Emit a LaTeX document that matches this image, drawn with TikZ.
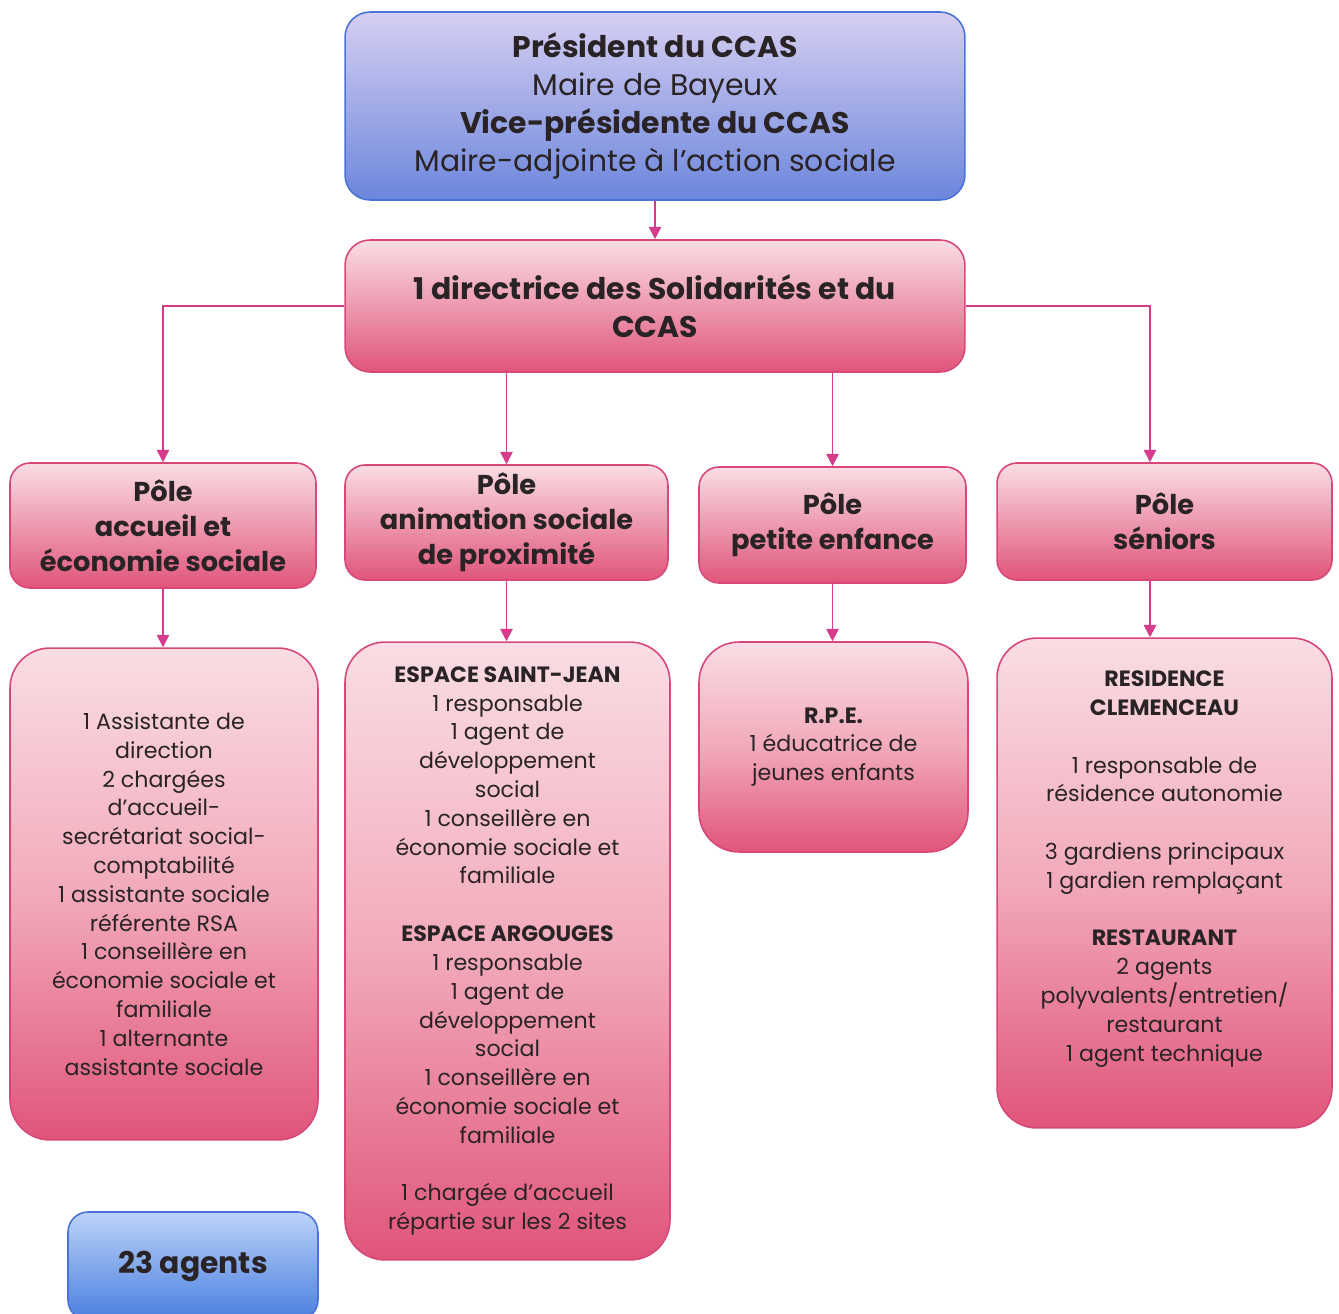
\documentclass[tikz,border=0pt]{standalone}
\usepackage{fontspec}
\setmainfont{Poppins}
\usetikzlibrary{calc,arrows.meta}
\definecolor{pinktop}{HTML}{FADDE4}
\definecolor{pinkmid}{HTML}{F2AABA}
\definecolor{pinkbot}{HTML}{E0557A}
\definecolor{pinkline}{HTML}{D8467A}
\definecolor{linkcol}{HTML}{D63C8C}
\definecolor{bluetop}{HTML}{D6CFF2}
\definecolor{bluebot}{HTML}{6C86DC}
\definecolor{blueline}{HTML}{4B72D6}
\definecolor{agtop}{HTML}{BCD2F8}
\definecolor{agbot}{HTML}{4A7FE0}
\definecolor{txt}{HTML}{2A2326}
\begin{document}
\begin{tikzpicture}[x=0.02cm,y=-0.02cm,
    box/.style={draw=pinkline,line width=0.9pt,top color=pinktop,bottom color=pinkbot,
      align=center,inner sep=0pt,text=txt},
    bluebox/.style={box,draw=blueline,top color=bluetop,bottom color=bluebot},
    polebox/.style={box,rounded corners=0.4cm,font=\fontsize{15.5}{19.8}\selectfont\bfseries},
    unitbox/.style={box,rounded corners=0.8cm,top color=pinktop,bottom color=pinkbot,
      middle color=pinkmid,font=\fontsize{12.6}{16.4}\selectfont},
    link/.style={draw=linkcol,line width=1pt,-{Triangle[length=7pt,width=7pt]}}]
  \useasboundingbox (0,0) rectangle (1339,1314);
  % haut
  \node[bluebox,rounded corners=0.5cm,minimum width=12.4cm,minimum height=3.76cm,
    font=\fontsize{17}{21.5}\selectfont] (pres) at (655,106)
    {\textbf{Président du CCAS}\\Maire de Bayeux\\\textbf{Vice-présidente du CCAS}\\Maire-adjointe à l’action sociale};
  \node[box,rounded corners=0.5cm,minimum width=12.4cm,minimum height=2.64cm,
    font=\fontsize{17}{21.5}\selectfont\bfseries] (dir) at (655,306)
    {1 directrice des Solidarités et du\\CCAS};
  % poles
  \node[polebox,minimum width=6.12cm,minimum height=2.5cm] (accueil) at (163,525.5)
    {Pôle\\accueil et\\économie sociale};
  \node[polebox,minimum width=6.46cm,minimum height=2.3cm] (anim) at (506.5,522.5)
    {Pôle\\animation sociale\\de proximité};
  \node[polebox,minimum width=5.34cm,minimum height=2.32cm] (enfance) at (832.5,525)
    {Pôle\\petite enfance};
  \node[polebox,minimum width=6.7cm,minimum height=2.34cm] (seniors) at (1164.5,521.5)
    {Pôle\\séniors};
  % services
  \node[unitbox,minimum width=6.16cm,minimum height=9.84cm] (uaccueil) at (164,894)
    {1 Assistante de\\direction\\2 chargées\\d’accueil-\\secrétariat social-\\comptabilité\\
     1 assistante sociale\\référente RSA\\1 conseillère en\\économie sociale et\\familiale\\
     1 alternante\\assistante sociale};
  \node[unitbox,minimum width=6.5cm,minimum height=12.36cm] (uanim) at (507.5,951)
    {\textbf{ESPACE SAINT-JEAN}\\1 responsable\\1 agent de\\développement\\social\\
     1 conseillère en\\économie sociale et\\familiale\\[16.4pt]
     \textbf{ESPACE ARGOUGES}\\1 responsable\\1 agent de\\développement\\social\\
     1 conseillère en\\économie sociale et\\familiale\\[16.4pt]
     1 chargée d’accueil\\répartie sur les 2 sites};
  \node[unitbox,minimum width=5.38cm,minimum height=4.2cm] (uenfance) at (833.5,747)
    {\textbf{R.P.E.}\\1 éducatrice de\\jeunes enfants};
  \node[unitbox,minimum width=6.7cm,minimum height=9.8cm] (useniors) at (1164.5,883) {};
  \node[align=center,text=txt,font=\fontsize{12.6}{16.4}\selectfont] (tseniors) at (1164.5,869)
    {\textbf{RESIDENCE}\\\textbf{CLEMENCEAU}\\[16.4pt]1 responsable de\\résidence autonomie\\[16.4pt]
     3 gardiens principaux\\1 gardien remplaçant\\[16.4pt]\textbf{RESTAURANT}\\2 agents\\
     polyvalents/entretien/\\restaurant\\1 agent technique};
  % total
  \node[bluebox,draw=blueline,top color=agtop,bottom color=agbot,rounded corners=0.4cm,
    minimum width=5cm,minimum height=2.16cm,font=\fontsize{17}{21.5}\selectfont\bfseries] (total) at (193,1266)
    {23 agents};
  % liaisons
  \draw[link] (pres.south) -- (dir.north);
  \draw[link] (dir.west) -| (accueil.north);
  \draw[link] (dir.east) -| ([xshift=-0.29cm]seniors.north);
  \foreach \p in {anim,enfance}{%
    \draw[link] (dir.south -| \p.north) -- (\p.north);
  }
  \foreach \p/\u in {accueil/uaccueil,anim/uanim,enfance/uenfance}{%
    \draw[link] (\p.south) -- (\p.south |- \u.north);
  }
  \draw[link] ([xshift=-0.29cm]seniors.south) -- ([xshift=-0.29cm]seniors.south |- useniors.north);
\end{tikzpicture}
\end{document}
